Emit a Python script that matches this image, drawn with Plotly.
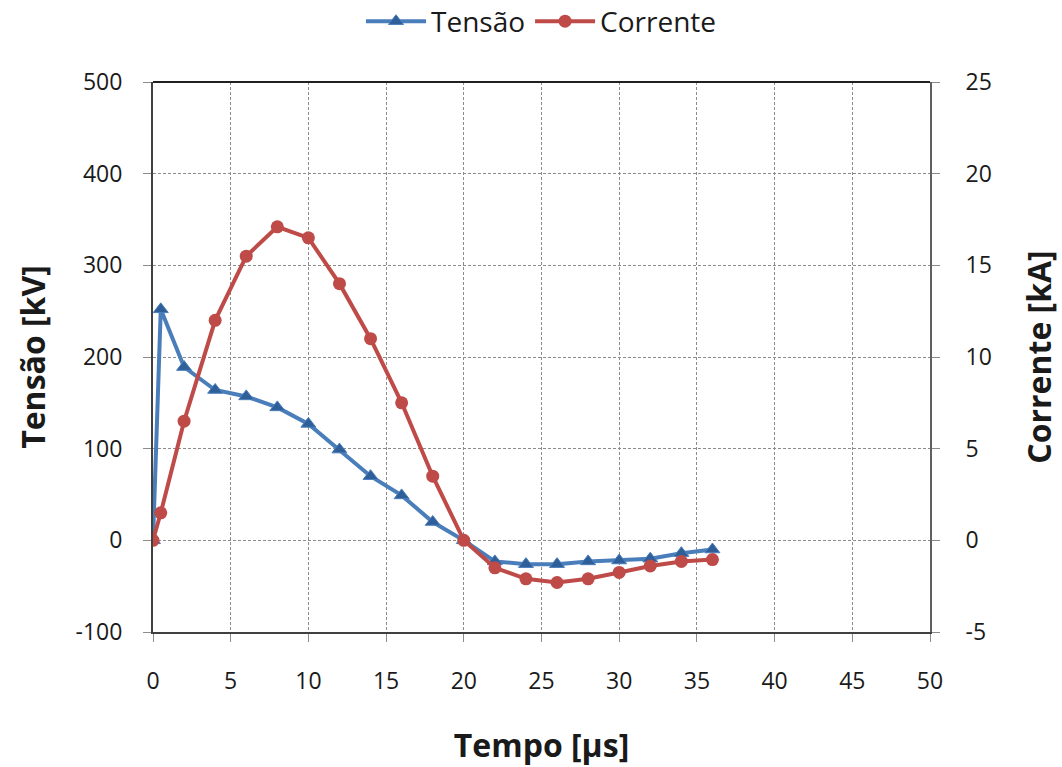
import plotly.graph_objects as go

# Time base shared by both series [µs]
tempo = [0, 0.5, 2, 4, 6, 8, 10, 12, 14, 16, 18, 20, 22, 24, 26, 28, 30, 32, 34, 36]

# Voltage [kV]
tensao = [0, 252, 189, 164, 157, 145, 127, 99, 70, 49, 20, 0,
          -23, -26, -26, -23, -22, -20, -14, -10]

# Current [kA]
corrente = [0, 1.5, 6.5, 12.0, 15.5, 17.1, 16.5, 14.0, 11.0, 7.5, 3.5, 0,
            -1.5, -2.1, -2.3, -2.1, -1.75, -1.4, -1.15, -1.05]

x_ticks = list(range(0, 55, 5))
y1_ticks = list(range(-100, 600, 100))
y2_ticks = list(range(-5, 30, 5))

BLUE = "#4a7ebb"
BLUE_MK = "#2f5f99"
RED = "#be4b48"
FONT = "Open Sans"
TICK_SIZE = 23
TITLE_SIZE = 32

fig = go.Figure()
fig.add_trace(go.Scatter(
    x=tempo, y=tensao, name="Tensão", mode="lines+markers",
    line=dict(color=BLUE, width=4),
    marker=dict(symbol="triangle-up", size=13, color=BLUE_MK,
                line=dict(color=BLUE, width=1)),
    yaxis="y",
))
fig.add_trace(go.Scatter(
    x=tempo, y=corrente, name="Corrente", mode="lines+markers",
    line=dict(color=RED, width=4),
    marker=dict(symbol="circle", size=13, color=RED),
    yaxis="y2",
))

grid = dict(showgrid=True, gridcolor="#8c8c8c", griddash="3px,2px", gridwidth=1)

fig.update_layout(
    width=1062, height=767,
    margin=dict(l=153, r=132, t=82, b=135, autoexpand=False),
    paper_bgcolor="white", plot_bgcolor="white",
    font=dict(family=FONT, color="#1a1a1a", size=TICK_SIZE),
    showlegend=True,
    legend=dict(orientation="h", x=0.5, xanchor="center",
                yref="container", y=0.972, yanchor="middle",
                font=dict(size=28, family=FONT), itemwidth=60, traceorder="normal"),
    xaxis=dict(
        range=[0, 50], tickvals=x_ticks, ticks="outside", ticklen=8,
        tickcolor="#8c8c8c", showline=True, linecolor="#404040", linewidth=2,
        zeroline=False, ticklabelstandoff=19, automargin=False, **grid,
        title=dict(text="<b>Tempo [µs]</b>", font=dict(size=TITLE_SIZE, family=FONT), standoff=40),
        tickfont=dict(size=TICK_SIZE),
    ),
    yaxis=dict(
        range=[-100, 500], tickvals=y1_ticks, ticktext=[str(v) for v in y1_ticks],
        ticks="outside", ticklen=8, ticklabelstandoff=16, automargin=False,
        tickcolor="#8c8c8c", showline=True, linecolor="#404040", linewidth=2,
        zeroline=False, **grid,
        title=dict(text="<b>Tensão [kV]</b>", font=dict(size=TITLE_SIZE, family=FONT), standoff=20),
        tickfont=dict(size=TICK_SIZE),
    ),
    yaxis2=dict(
        range=[-5, 25], tickvals=y2_ticks, ticktext=[str(v) for v in y2_ticks],
        ticks="outside", ticklen=8, ticklabelstandoff=21, automargin=False,
        tickcolor="#8c8c8c", showline=True, linecolor="#606060", linewidth=2,
        overlaying="y", side="right", showgrid=False, zeroline=False,
        title=dict(text="<b>Corrente [kA]</b>", font=dict(size=TITLE_SIZE, family=FONT), standoff=38),
        tickfont=dict(size=TICK_SIZE),
    ),
)

# Solid top border of the plotting area
fig.add_shape(type="line", xref="paper", yref="paper", x0=0, x1=1, y0=1, y1=1,
              line=dict(color="#202020", width=2))

fig.write_html("out.html")
